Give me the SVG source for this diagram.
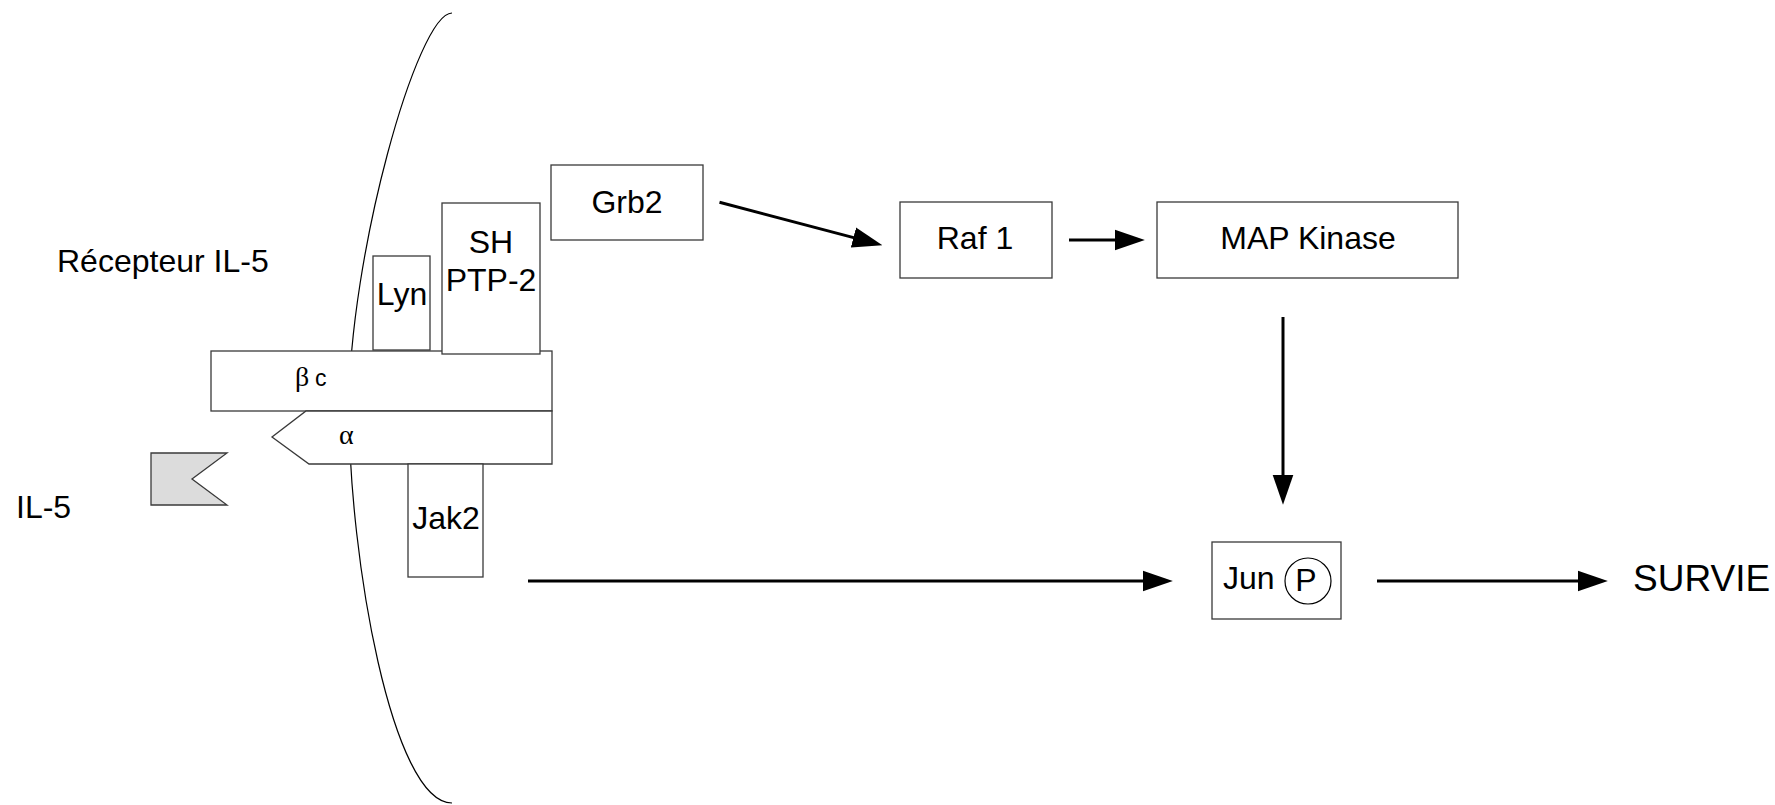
<svg xmlns="http://www.w3.org/2000/svg" width="1775" height="805" viewBox="0 0 1775 805">
<style>
.box{fill:#fff;stroke:#3a3a3a;stroke-width:1.3}
.lbl{font-family:"Liberation Sans",Arial,sans-serif;font-size:32px;fill:#000}
.c{text-anchor:middle}
.greek{font-family:"Liberation Serif","Times New Roman",serif;fill:#000}
.conn{stroke:#000;stroke-width:3;fill:none}
.mem{stroke:#000;stroke-width:1.2;fill:none}
</style>
<defs>
<marker id="ah" markerUnits="userSpaceOnUse" markerWidth="30" markerHeight="22" viewBox="0 0 29 20" refX="4" refY="10" orient="auto">
<path d="M0,0 L29,10 L0,20 z" fill="#000"/>
</marker>
</defs>
<rect width="1775" height="805" fill="#fff"/>
<g id="membrane">
<path class="mem" d="M452,13 C417,13 349,258 349,408 C349,558 392,803 452,803"/>
</g>
<g id="label-recepteur"><text class="lbl" x="57" y="272">Récepteur IL-5</text></g>
<g id="label-il5"><text class="lbl" x="16" y="518">IL-5</text></g>
<g id="il5-ligand"><polygon points="151,453 227,453 192,479 227,505 151,505" fill="#dcdcdc" stroke="#3a3a3a" stroke-width="1.3"/></g>
<g id="beta-c">
<rect class="box" x="211" y="351" width="341" height="60"/>
<text class="greek" x="295" y="386" font-size="28">β</text>
<text class="lbl" x="315" y="386" style="font-size:23px">c</text>
</g>
<g id="alpha">
<polygon class="box" points="552,411 306,411 272,437 309,464 552,464"/>
<text class="greek" x="339" y="444" font-size="28">α</text>
</g>
<g id="lyn">
<rect class="box" x="373" y="256" width="57" height="94"/>
<text class="lbl c" x="402" y="305">Lyn</text>
</g>
<g id="shptp2">
<rect class="box" x="442" y="203" width="98" height="151"/>
<text class="lbl c" x="491" y="253">SH</text>
<text class="lbl c" x="491" y="291">PTP-2</text>
</g>
<g id="grb2">
<rect class="box" x="551" y="165" width="152" height="75"/>
<text class="lbl c" x="627" y="213">Grb2</text>
</g>
<g id="jak2">
<rect class="box" x="408" y="464" width="75" height="113"/>
<text class="lbl c" x="446" y="529">Jak2</text>
</g>
<g id="raf1">
<rect class="box" x="900" y="202" width="152" height="76"/>
<text class="lbl c" x="975" y="249">Raf 1</text>
</g>
<g id="mapk">
<rect class="box" x="1157" y="202" width="301" height="76"/>
<text class="lbl c" x="1308" y="249">MAP Kinase</text>
</g>
<g id="jun">
<rect class="box" x="1212" y="542" width="129" height="77"/>
<text class="lbl" x="1223" y="589">Jun</text>
<circle cx="1308" cy="581" r="23" fill="none" stroke="#000" stroke-width="1.2"/>
<text class="lbl c" x="1306" y="591">P</text>
</g>
<g id="survie"><text class="lbl" x="1633" y="591" style="font-size:37px">SURVIE</text></g>
<g id="connectors">
<line class="conn" x1="719.5" y1="202.3" x2="857.4" y2="238.6" marker-end="url(#ah)"/>
<line class="conn" x1="1069" y1="240" x2="1119" y2="240" marker-end="url(#ah)"/>
<line class="conn" x1="1283" y1="317" x2="1283" y2="479" marker-end="url(#ah)"/>
<line class="conn" x1="528" y1="581" x2="1147" y2="581" marker-end="url(#ah)"/>
<line class="conn" x1="1377" y1="581" x2="1582" y2="581" marker-end="url(#ah)"/>
</g>
</svg>
